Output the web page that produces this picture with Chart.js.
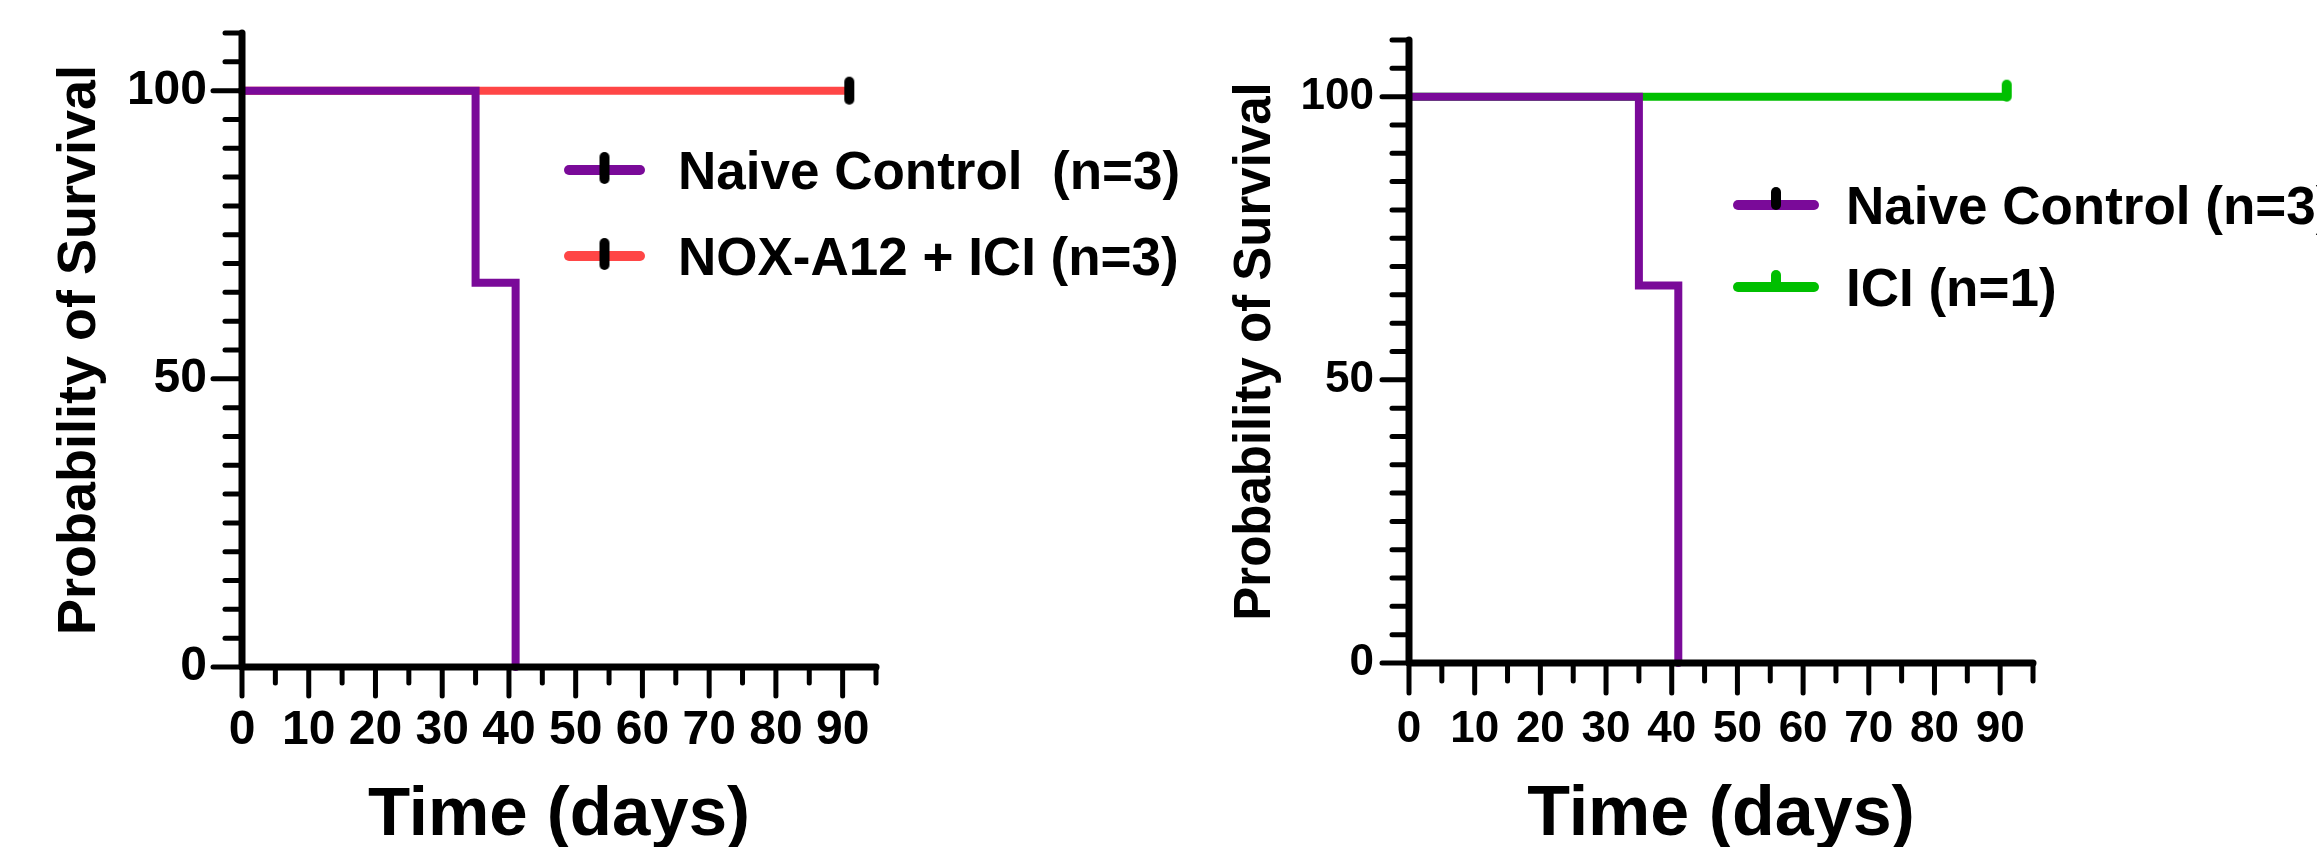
<!DOCTYPE html>
<html lang="en">
<head>
<meta charset="UTF-8">
<title>Survival curves</title>
<script src="https://cdn.jsdelivr.net/npm/chart.js@4.4.0/dist/chart.umd.min.js"></script>
<style>
  html, body { margin: 0; padding: 0; background: #fff; overflow: hidden; }
  .panel { position: absolute; left: 0; top: 0; width: 2317px; height: 847px; }
</style>
</head>
<body>
<div class="panel"><canvas id="leftChart"></canvas></div>
<div class="panel"><canvas id="rightChart"></canvas></div>

<script>
// ---------- data ----------
var dayLabels  = [0, 10, 20, 30, 40, 50, 60, 70, 80, 90];   // labelled x ticks
var probLabels = [0, 50, 100];                               // labelled y ticks

var naiveDays     = [0, 35, 41];
var naiveSurvival = [100, 66.67, 0];

var noxDays       = [0, 91];
var noxSurvival   = [100, 100];
var noxCensorDays = [91];
var noxCensorProb = [100];

var iciDays       = [0, 91];
var iciSurvival   = [100, 100];
var iciCensorDays = [91];
var iciCensorProb = [100];

var leftNames  = ['Naive Control  (n=3)', 'NOX-A12 + ICI (n=3)'];
var rightNames = ['Naive Control (n=3)', 'ICI (n=1)'];

// ---------- styles ----------
var PURPLE = '#7A0A99';
var RED    = '#FF4646';
var GREEN  = '#00BF00';
var FONT   = "'Liberation Sans', Arial, Helvetica, sans-serif";

Chart.defaults.color = '#000';
Chart.defaults.font.family = FONT;
Chart.defaults.font.weight = 'bold';

function toPoints(xs, ys) {
    return xs.map(function (x, i) { return {x: x, y: ys[i]}; });
}

// small canvases used as point styles for the censor marks
function capsuleMark(w, h, color) {
    var c = document.createElement('canvas');
    c.width = w + 2; c.height = h + 2;
    var g = c.getContext('2d');
    g.strokeStyle = color; g.lineWidth = w; g.lineCap = 'round';
    g.beginPath();
    g.moveTo(c.width / 2, 1 + w / 2);
    g.lineTo(c.width / 2, c.height - 1 - w / 2);
    g.stroke();
    return c;
}
function upTickMark(w, len, color) {
    // drawn from the centre upwards so it sits on top of the curve
    var c = document.createElement('canvas');
    c.width = w + 2; c.height = 2 * len + 2;
    var g = c.getContext('2d');
    g.strokeStyle = color; g.lineWidth = w; g.lineCap = 'round';
    g.beginPath();
    g.moveTo(c.width / 2, c.height / 2);
    g.lineTo(c.width / 2, 1 + w / 2);
    g.stroke();
    return c;
}

// Prism-like axes: thick lines, major/minor ticks outside, drawn from the scales
var prismAxes = {
    id: 'prismAxes',
    afterDatasetsDraw: function (chart, args, o) {
        var ctx = chart.ctx, xs = chart.scales.x, ys = chart.scales.y;
        var x0 = xs.getPixelForValue(xs.min), x1 = xs.getPixelForValue(xs.max);
        var y0 = ys.getPixelForValue(ys.min), y1 = ys.getPixelForValue(ys.max);
        function seg(a, b, c, d) { ctx.beginPath(); ctx.moveTo(a, b); ctx.lineTo(c, d); ctx.stroke(); }
        ctx.save();
        ctx.strokeStyle = '#000';
        ctx.lineCap = 'round';
        ctx.lineWidth = o.axisWidth;
        seg(x0, y0, x1, y0);
        seg(x0, y0, x0, y1);
        ctx.lineWidth = o.tickWidth;
        xs.ticks.forEach(function (t) {
            var px = xs.getPixelForValue(t.value);
            var len = dayLabels.indexOf(t.value) >= 0 ? o.majorX : o.minorX;
            seg(px, y0, px, y0 + len);
        });
        ys.ticks.forEach(function (t) {
            var py = ys.getPixelForValue(t.value);
            var len = probLabels.indexOf(t.value) >= 0 ? o.majorY : o.minorY;
            seg(x0, py, x0 - len, py);
        });
        ctx.restore();
    }
};

// legend: line sample with censor mark, then the group name
var prismLegend = {
    id: 'prismLegend',
    afterDraw: function (chart, args, o) {
        var ctx = chart.ctx;
        ctx.save();
        o.items.forEach(function (it, i) {
            var y = o.y + i * o.dy;
            ctx.strokeStyle = it.color;
            ctx.lineWidth = o.lineWidth;
            ctx.lineCap = 'round';
            ctx.beginPath(); ctx.moveTo(o.x0, y); ctx.lineTo(o.x1, y); ctx.stroke();
            var m = it.mark, mx = (o.x0 + o.x1) / 2;
            ctx.drawImage(m, mx - m.width / 2, y - m.height / 2 + (it.markShift || 0));
            ctx.fillStyle = '#000';
            ctx.font = 'bold ' + o.fontSize + 'px ' + FONT;
            ctx.textBaseline = 'alphabetic';
            ctx.fillText(it.text, o.textX, y + o.baseShift);
        });
        ctx.restore();
    }
};

function curve(xs, ys, color) {
    return {
        data: toPoints(xs, ys),
        showLine: true,
        stepped: true,
        borderColor: color,
        borderWidth: 8,
        borderCapStyle: 'round',
        borderJoinStyle: 'miter',
        pointRadius: 0,
        clip: false
    };
}
function marks(xs, ys, img) {
    return {
        data: toPoints(xs, ys),
        showLine: false,
        pointStyle: img,
        pointRadius: 6,
        clip: false
    };
}

function makeOptions(cfg) {
    return {
        responsive: true,
        maintainAspectRatio: false,
        animation: false,
        layout: {padding: cfg.padding},
        plugins: {
            legend: {display: false},
            tooltip: {enabled: false},
            prismAxes: cfg.axes,
            prismLegend: cfg.legend
        },
        scales: {
            x: {
                type: 'linear', min: 0, max: 95,
                grid: {display: false, drawTicks: false},
                border: {display: false},
                ticks: {
                    stepSize: 5, autoSkip: false, maxRotation: 0,
                    padding: cfg.xPad,
                    font: {size: cfg.tickSize, weight: 'bold'},
                    callback: function (v) { return dayLabels.indexOf(v) >= 0 ? String(v) : ''; }
                },
                title: {
                    display: true, text: 'Time (days)',
                    font: {size: cfg.xTitleSize, weight: 'bold', lineHeight: 0.9},
                    padding: {top: 0, bottom: 0}
                },
                afterFit: function (s) {
                    s.height = cfg.xHeight;
                    s.paddingLeft = 0; s.paddingRight = 0;
                }
            },
            y: {
                type: 'linear', min: 0, max: 110,
                grid: {display: false, drawTicks: false},
                border: {display: false},
                ticks: {
                    stepSize: 5, autoSkip: false,
                    padding: cfg.yPad,
                    font: {size: cfg.tickSize, weight: 'bold'},
                    callback: function (v) { return probLabels.indexOf(v) >= 0 ? String(v) : ''; }
                },
                title: {
                    display: true, text: 'Probability of Survival',
                    font: {size: cfg.yTitleSize, weight: 'bold'},
                    padding: {top: cfg.yTitlePad, bottom: 0}
                },
                afterFit: function (s) {
                    // fixed box so the plot area lands where the figure has it
                    s.width = cfg.yWidth;
                    s.paddingTop = 0; s.paddingBottom = 0;
                }
            }
        }
    };
}

var dataCapsule   = capsuleMark(10, 28, '#000');
var legendCapsule = capsuleMark(10, 32, '#000');
var blackTick     = upTickMark(10, 18, '#000');
var greenTick     = upTickMark(10, 17, GREEN);

// ---------- left panel ----------
new Chart(document.getElementById('leftChart'), {
    type: 'scatter',
    data: {
        datasets: [
            marks(noxCensorDays, noxCensorProb, dataCapsule),
            curve(naiveDays, naiveSurvival, PURPLE),
            curve(noxDays, noxSurvival, RED)
        ]
    },
    options: makeOptions({
        padding: {left: 0, top: 33, right: 2317 - 876, bottom: 0},
        yWidth: 242, xHeight: 180,
        xPad: 35, yPad: 35, tickSize: 48,
        xTitleSize: 69, yTitleSize: 54, yTitlePad: 48,
        axes: {axisWidth: 7, tickWidth: 5, majorX: 29, minorX: 16, majorY: 29, minorY: 17},
        legend: {
            x0: 569, x1: 640, y: 170, dy: 86, lineWidth: 10,
            textX: 678, baseShift: 19, fontSize: 53,
            items: [
                {text: leftNames[0], color: PURPLE, mark: legendCapsule, markShift: -2},
                {text: leftNames[1], color: RED, mark: legendCapsule, markShift: -2}
            ]
        }
    }),
    plugins: [prismAxes, prismLegend]
});

// ---------- right panel ----------
new Chart(document.getElementById('rightChart'), {
    type: 'scatter',
    data: {
        datasets: [
            marks(iciCensorDays, iciCensorProb, greenTick),
            curve(naiveDays, naiveSurvival, PURPLE),
            curve(iciDays, iciSurvival, GREEN)
        ]
    },
    options: makeOptions({
        padding: {left: 1160, top: 40, right: 2317 - 2033, bottom: 0},
        yWidth: 249, xHeight: 847 - 663,
        xPad: 40, yPad: 35, tickSize: 44,
        xTitleSize: 70, yTitleSize: 51, yTitlePad: 65,
        axes: {axisWidth: 7, tickWidth: 5, majorX: 30, minorX: 18, majorY: 27, minorY: 17},
        legend: {
            x0: 1738, x1: 1814, y: 205, dy: 82, lineWidth: 10,
            textX: 1846, baseShift: 19, fontSize: 53,
            items: [
                {text: rightNames[0], color: PURPLE, mark: blackTick, markShift: 0},
                {text: rightNames[1], color: GREEN, mark: greenTick, markShift: 0}
            ]
        }
    }),
    plugins: [prismAxes, prismLegend]
});
</script>
</body>
</html>
